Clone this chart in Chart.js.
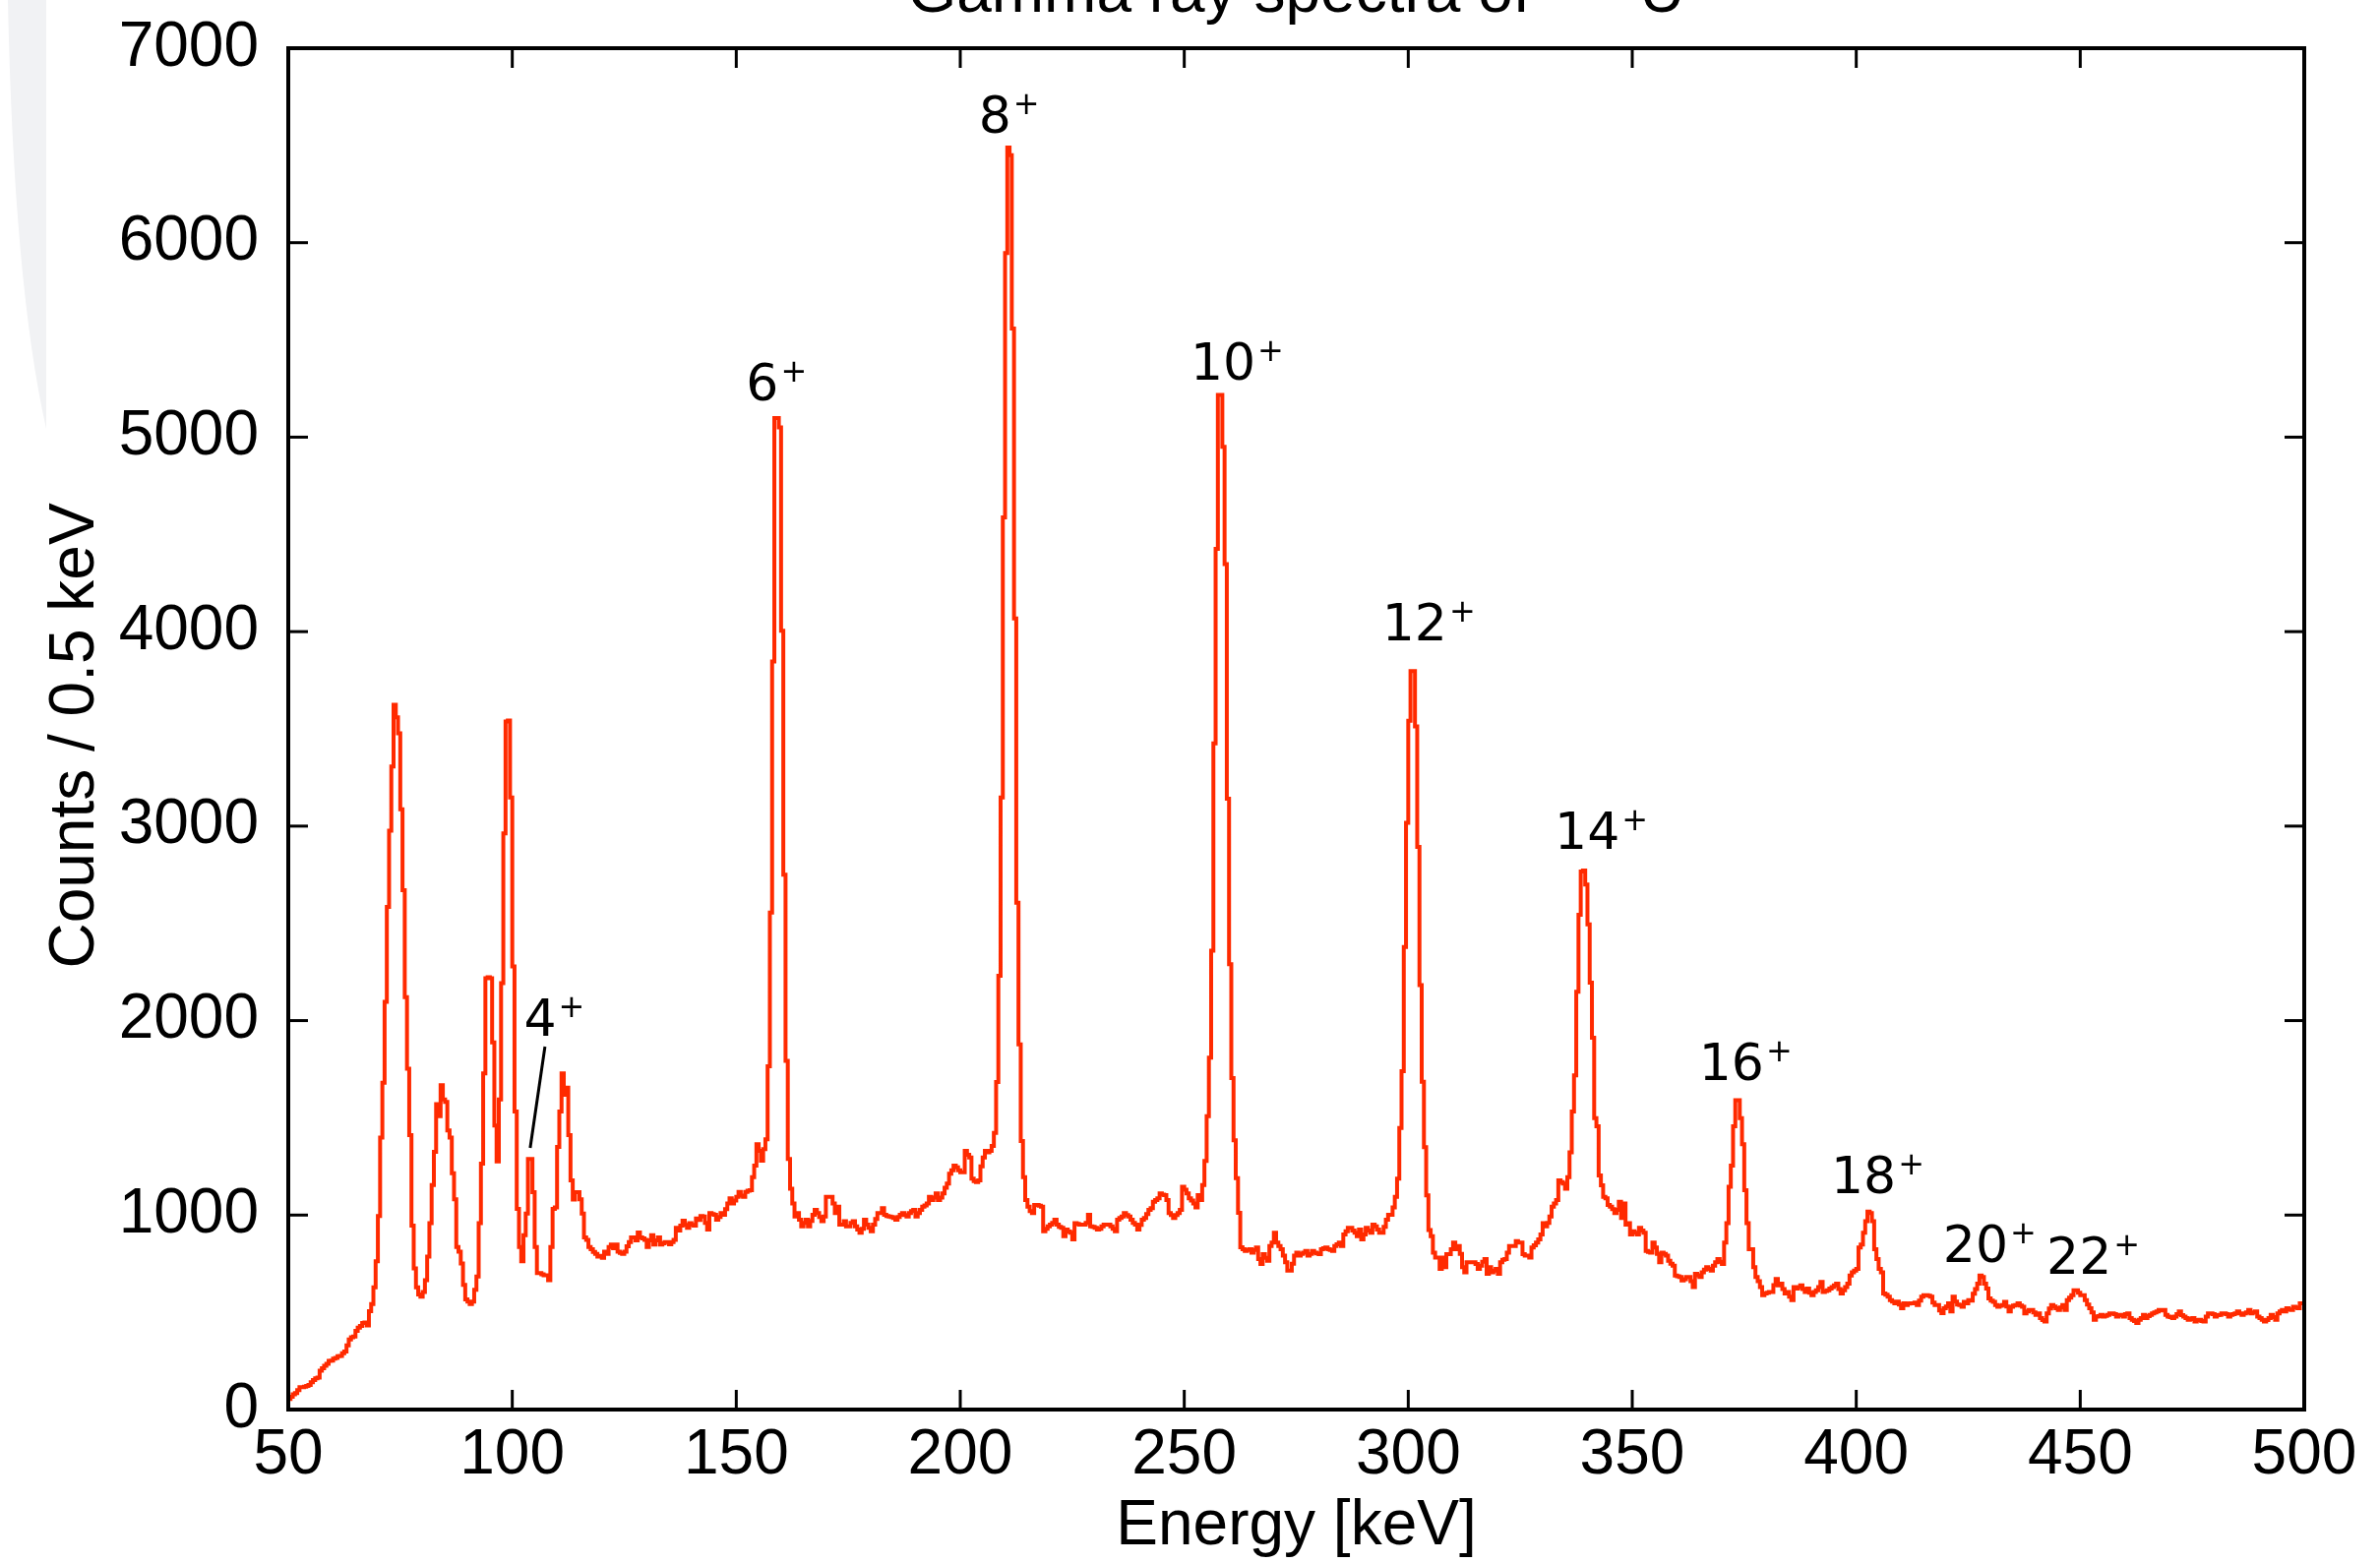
<!DOCTYPE html>
<html>
<head>
<meta charset="utf-8">
<title>Gamma ray spectra of 238U</title>
<script src="https://cdn.jsdelivr.net/npm/chart.js@4.4.1/dist/chart.umd.min.js"></script>
<style>
  html, body { margin: 0; padding: 0; background: #fff; }
  #wrap { position: relative; width: 2419px; height: 1589px; }
</style>
</head>
<body>
<div id="wrap"><canvas id="spectrum"></canvas></div>
<script>
// ---- Data: counts per 0.5 keV bin ----
const BIN_START = 50;   // keV, left edge of the first bin
const BIN_WIDTH = 0.5;  // keV

const counts050 = [ // 50 - 100 keV
  45, 55, 66, 78, 85, 100, 115, 115, 118, 122,
  127, 140, 152, 160, 164, 200, 212, 225, 235, 250,
  252, 262, 265, 274, 276, 290, 299, 330, 360, 372,
  375, 405, 421, 430, 445, 447, 433, 506, 543, 629,
  763, 995, 1399, 1680, 2096, 2584, 2976, 3306, 3624, 3560,
  3477, 3086, 2670, 2120, 1753, 1411, 946, 726, 629, 592,
  580, 604, 665, 787, 959, 1154, 1325, 1570, 1509, 1668,
  1594, 1582, 1435, 1399, 1215, 1081, 836, 812, 751, 641,
  567, 555, 543, 555, 616, 684, 959, 1264, 1729, 2218,
  2223, 2218, 1888, 1460, 1276, 1594, 2193, 2963, 3538, 3543];
const counts100 = [ // 100 - 150 keV
  3147, 2279, 1533, 1032, 836, 763, 897, 1008, 1289, 1289,
  1118, 836, 702, 702, 695, 690, 690, 665, 836, 1032,
  1040, 1350, 1533, 1729, 1619, 1655, 1411, 1179, 1080, 1118,
  1118, 1081, 1008, 885, 873, 836, 824, 810, 800, 787,
  790, 780, 812, 800, 836, 848, 830, 848, 812, 805,
  800, 812, 840, 861, 885, 885, 870, 910, 885, 880,
  873, 836, 870, 897, 848, 870, 885, 848, 855, 861,
  861, 850, 861, 873, 934, 920, 946, 971, 950, 934,
  959, 950, 946, 983, 975, 995, 993, 960, 925, 1010,
  1005, 1001, 976, 990, 1010, 1001, 1030, 1060, 1086, 1060];
const counts150 = [ // 150 - 200 keV
  1075, 1094, 1119, 1100, 1094, 1119, 1125, 1128, 1195, 1254,
  1364, 1330, 1280, 1339, 1389, 1765, 2556, 3847, 5098, 5098,
  5050, 4005, 2750, 1793, 1288, 1136, 1060, 993, 1010, 976,
  942, 960, 976, 942, 970, 1001, 1027, 1010, 990, 968,
  993, 1094, 1094, 1094, 1060, 1010, 1043, 951, 951, 968,
  942, 942, 960, 968, 942, 925, 909, 930, 976, 951,
  935, 917, 951, 980, 1010, 1010, 1035, 1001, 995, 993,
  990, 985, 976, 990, 1001, 1010, 1000, 993, 1010, 1020,
  1027, 993, 1010, 1027, 1043, 1050, 1060, 1094, 1077, 1090,
  1111, 1077, 1090, 1111, 1140, 1162, 1212, 1230, 1254, 1246];
const counts200 = [ // 200 - 250 keV
  1230, 1220, 1220, 1330, 1310, 1296, 1187, 1175, 1170, 1178,
  1250, 1296, 1330, 1322, 1330, 1355, 1423, 1684, 2231, 3147,
  4588, 5947, 6489, 6450, 5559, 4068, 2606, 1878, 1381, 1195,
  1077, 1043, 1020, 1010, 1052, 1052, 1048, 1043, 917, 930,
  942, 951, 960, 976, 951, 940, 934, 892, 925, 915,
  909, 875, 959, 955, 951, 951, 951, 960, 1001, 942,
  940, 934, 925, 930, 942, 951, 951, 951, 942, 930,
  917, 976, 985, 993, 1010, 1000, 993, 976, 960, 951,
  925, 950, 976, 985, 1005, 1027, 1035, 1069, 1077, 1086,
  1111, 1105, 1102, 1077, 1010, 1000, 985, 1000, 1010, 1027];
const counts250 = [ // 250 - 300 keV
  1145, 1130, 1111, 1086, 1075, 1060, 1040, 1102, 1077, 1154,
  1278, 1509, 1810, 2360, 3425, 4425, 5217, 5217, 4950, 4347,
  3141, 2290, 1704, 1385, 1190, 1012, 835, 824, 816, 820,
  824, 807, 820, 833, 774, 748, 799, 780, 765, 841,
  858, 909, 858, 841, 824, 791, 757, 715, 715, 750,
  791, 807, 791, 800, 807, 816, 791, 800, 816, 807,
  803, 799, 824, 830, 833, 824, 820, 816, 841, 850,
  858, 841, 900, 917, 934, 934, 920, 909, 892, 925,
  875, 900, 934, 920, 909, 951, 942, 925, 909, 909,
  940, 976, 1001, 1001, 1040, 1094, 1187, 1448, 1740, 2378];
const counts300 = [ // 300 - 350 keV
  3017, 3542, 3797, 3797, 3513, 2893, 2183, 1686, 1349, 1101,
  923, 892, 807, 782, 782, 723, 782, 732, 799, 799,
  824, 858, 824, 841, 800, 732, 706, 757, 757, 757,
  757, 748, 723, 740, 760, 774, 698, 732, 706, 715,
  723, 698, 757, 770, 774, 807, 841, 841, 841, 866,
  858, 858, 799, 791, 791, 782, 833, 845, 858, 875,
  900, 959, 942, 960, 993, 1043, 1060, 1077, 1178, 1170,
  1162, 1136, 1195, 1322, 1532, 1718, 2148, 2544, 2766, 2772,
  2700, 2495, 2195, 1912, 1499, 1457, 1204, 1153, 1094, 1086,
  1052, 1043, 1030, 1010, 1027, 1069, 985, 1060, 951, 959];
const counts350 = [ // 350 - 400 keV
  900, 917, 909, 900, 934, 920, 909, 816, 810, 807,
  858, 833, 800, 757, 807, 800, 791, 765, 750, 740,
  689, 685, 681, 664, 670, 681, 681, 660, 630, 698,
  690, 681, 706, 720, 732, 723, 715, 740, 757, 774,
  760, 748, 858, 959, 1145, 1254, 1457, 1591, 1591, 1499,
  1364, 1128, 959, 824, 824, 732, 681, 660, 630, 588,
  597, 600, 605, 605, 640, 672, 639, 647, 620, 597,
  605, 580, 563, 630, 622, 630, 639, 620, 605, 622,
  600, 588, 605, 613, 630, 656, 605, 610, 613, 622,
  630, 639, 647, 620, 597, 613, 630, 647, 689, 706];
const counts400 = [ // 400 - 450 keV
  715, 723, 833, 849, 909, 968, 1018, 1010, 968, 824,
  774, 723, 706, 597, 590, 580, 563, 555, 546, 555,
  540, 521, 546, 538, 545, 546, 546, 550, 538, 560,
  580, 588, 588, 585, 580, 550, 538, 538, 510, 496,
  521, 530, 546, 504, 580, 555, 540, 538, 529, 554,
  546, 563, 560, 596, 620, 647, 689, 681, 647, 622,
  571, 560, 554, 537, 529, 533, 537, 554, 530, 504,
  529, 535, 537, 546, 535, 529, 495, 505, 512, 512,
  500, 487, 495, 470, 460, 453, 495, 520, 537, 530,
  521, 512, 525, 537, 512, 563, 575, 588, 613, 613];
const counts450 = [ // 450 - 500 keV
  600, 588, 588, 563, 540, 521, 500, 462, 478, 480,
  487, 478, 482, 487, 495, 495, 490, 478, 485, 487,
  478, 490, 495, 470, 462, 455, 445, 462, 470, 487,
  470, 480, 487, 495, 500, 504, 512, 510, 512, 487,
  478, 475, 470, 478, 490, 504, 485, 478, 470, 462,
  465, 470, 453, 460, 462, 455, 453, 478, 495, 495,
  490, 478, 485, 487, 495, 495, 490, 478, 487, 490,
  495, 504, 495, 487, 495, 500, 512, 495, 500, 504,
  478, 470, 462, 453, 460, 470, 487, 475, 462, 495,
  505, 512, 504, 521, 515, 512, 529, 525, 521, 546];

const xTicks = [50, 100, 150, 200, 250, 300, 350, 400, 450, 500];
const yTicks = [0, 1000, 2000, 3000, 4000, 5000, 6000, 7000];

// Band labels: spin, label centre (keV), label baseline (counts)
const peakSpins = ['4', '6', '8', '10', '12', '14', '16', '18', '20', '22'];
const peakLabelE = [109.4, 159.0, 210.9, 261.8, 304.6, 343.1, 375.3, 404.8, 429.8, 452.9];
const peakLabelC = [1920, 5189, 6566, 5297, 3956, 2883, 1694, 1113, 759, 698];
// leader line from the 4+ label down to its peak
const leaderE = [107.3, 104.0];
const leaderC = [1866, 1345];

// ---- Build histogram points (left bin edges, plus closing edge) ----
const counts = [].concat(counts050, counts100, counts150, counts200, counts250,
  counts300, counts350, counts400, counts450);
const points = counts.map((c, i) => ({ x: BIN_START + i * BIN_WIDTH, y: c }));
points.push({ x: BIN_START + counts.length * BIN_WIDTH, y: counts[counts.length - 1] });

const AXIS_FONT = '"Liberation Sans", Arial, sans-serif';
const LABEL_FONT = '"DejaVu Sans", sans-serif';

// ---- Plugins ----
const backdrop = {
  id: 'backdrop',
  beforeDraw(chart) {
    const { ctx } = chart;
    ctx.save();
    ctx.fillStyle = '#f1f2f4';
    ctx.beginPath();
    ctx.moveTo(8, 0);
    ctx.lineTo(47, 0);
    ctx.lineTo(47, 436);
    ctx.quadraticCurveTo(14, 290, 8, 0);
    ctx.fill();
    ctx.restore();
  }
};

const frame = {
  id: 'frame',
  afterDatasetsDraw(chart) {
    const { ctx, chartArea: a, scales: { x, y } } = chart;
    const seg = (x1, y1, x2, y2) => { ctx.beginPath(); ctx.moveTo(x1, y1); ctx.lineTo(x2, y2); ctx.stroke(); };
    ctx.save();
    ctx.strokeStyle = '#000';
    ctx.lineWidth = 3;
    xTicks.forEach((v) => {
      const px = x.getPixelForValue(v);
      seg(px, a.bottom, px, a.bottom - 20);
      seg(px, a.top, px, a.top + 20);
    });
    yTicks.forEach((v) => {
      const py = y.getPixelForValue(v);
      seg(a.left, py, a.left + 20, py);
      seg(a.right, py, a.right - 20, py);
    });
    ctx.lineWidth = 4;
    ctx.strokeRect(a.left, a.top, a.right - a.left, a.bottom - a.top);
    ctx.restore();
  }
};

const annotations = {
  id: 'annotations',
  afterDraw(chart) {
    const { ctx, chartArea: a, scales: { x, y } } = chart;
    ctx.save();
    ctx.fillStyle = '#000';

    // title (mass number sits above the visible area, as in the source)
    ctx.textBaseline = 'alphabetic';
    ctx.textAlign = 'left';
    ctx.font = '64px ' + AXIS_FONT;
    const t1 = 'Gamma ray spectra of ';
    const w1 = ctx.measureText(t1).width;
    const w3 = ctx.measureText('U').width;
    ctx.font = '51px ' + AXIS_FONT;
    const w2 = ctx.measureText('238').width + 8;
    let tx = (a.left + a.right) / 2 - (w1 + w2 + w3) / 2;
    ctx.font = '64px ' + AXIS_FONT;
    ctx.fillText(t1, tx, 12);
    ctx.font = '51px ' + AXIS_FONT;
    ctx.fillText('238', tx + w1, 12 - 24);
    ctx.font = '64px ' + AXIS_FONT;
    ctx.fillText('U', tx + w1 + w2, 12);

    // axis titles
    ctx.textAlign = 'center';
    ctx.fillText('Energy [keV]', (a.left + a.right) / 2, 1570);
    ctx.save();
    ctx.translate(95, 748);
    ctx.rotate(-Math.PI / 2);
    ctx.fillText('Counts / 0.5 keV', 0, 0);
    ctx.restore();

    // level labels
    ctx.textAlign = 'left';
    peakSpins.forEach((s, i) => {
      const cx = x.getPixelForValue(peakLabelE[i]);
      const by = y.getPixelForValue(peakLabelC[i]);
      ctx.font = '52px ' + LABEL_FONT;
      const wm = ctx.measureText(s).width;
      ctx.font = '32px ' + LABEL_FONT;
      const wp = ctx.measureText('+').width;
      const x0 = cx - (wm + 2 + wp) / 2;
      ctx.font = '52px ' + LABEL_FONT;
      ctx.fillText(s, x0, by);
      ctx.font = '32px ' + LABEL_FONT;
      ctx.fillText('+', x0 + wm + 2, by - 19);
    });

    // leader line for 4+
    ctx.strokeStyle = '#000';
    ctx.lineWidth = 3;
    ctx.beginPath();
    ctx.moveTo(x.getPixelForValue(leaderE[0]), y.getPixelForValue(leaderC[0]));
    ctx.lineTo(x.getPixelForValue(leaderE[1]), y.getPixelForValue(leaderC[1]));
    ctx.stroke();
    ctx.restore();
  }
};

// ---- Chart ----
new Chart(document.getElementById('spectrum'), {
  type: 'line',
  data: {
    datasets: [{
      data: points,
      stepped: 'after',
      borderColor: '#ff2a00',
      borderWidth: 4,
      borderJoinStyle: 'miter',
      pointRadius: 0,
      fill: false,
      tension: 0
    }]
  },
  options: {
    responsive: true,
    maintainAspectRatio: false,
    animation: false,
    events: [],
    layout: { padding: { top: 49, right: 77, bottom: 0, left: 0 } },
    plugins: { legend: { display: false }, tooltip: { enabled: false } },
    scales: {
      x: {
        type: 'linear', min: 50, max: 500,
        afterBuildTicks: (s) => { s.ticks = xTicks.map((v) => ({ value: v })); },
        afterFit: (s) => { s.height = 156; s.paddingLeft = 0; s.paddingRight = 0; },
        grid: { display: false, drawTicks: false },
        border: { display: false },
        ticks: { color: '#000', padding: 9, maxRotation: 0, autoSkip: false,
          callback: (v) => String(v),
          font: { family: AXIS_FONT, size: 64 } }
      },
      y: {
        type: 'linear', min: 0, max: 7000,
        afterBuildTicks: (s) => { s.ticks = yTicks.map((v) => ({ value: v })); },
        afterFit: (s) => { s.width = 293; s.paddingTop = 0; s.paddingBottom = 0; },
        grid: { display: false, drawTicks: false },
        border: { display: false },
        ticks: { color: '#000', padding: 30, autoSkip: false,
          callback: (v) => String(v),
          font: { family: AXIS_FONT, size: 64 } }
      }
    }
  },
  plugins: [backdrop, frame, annotations]
});
</script>
</body>
</html>
